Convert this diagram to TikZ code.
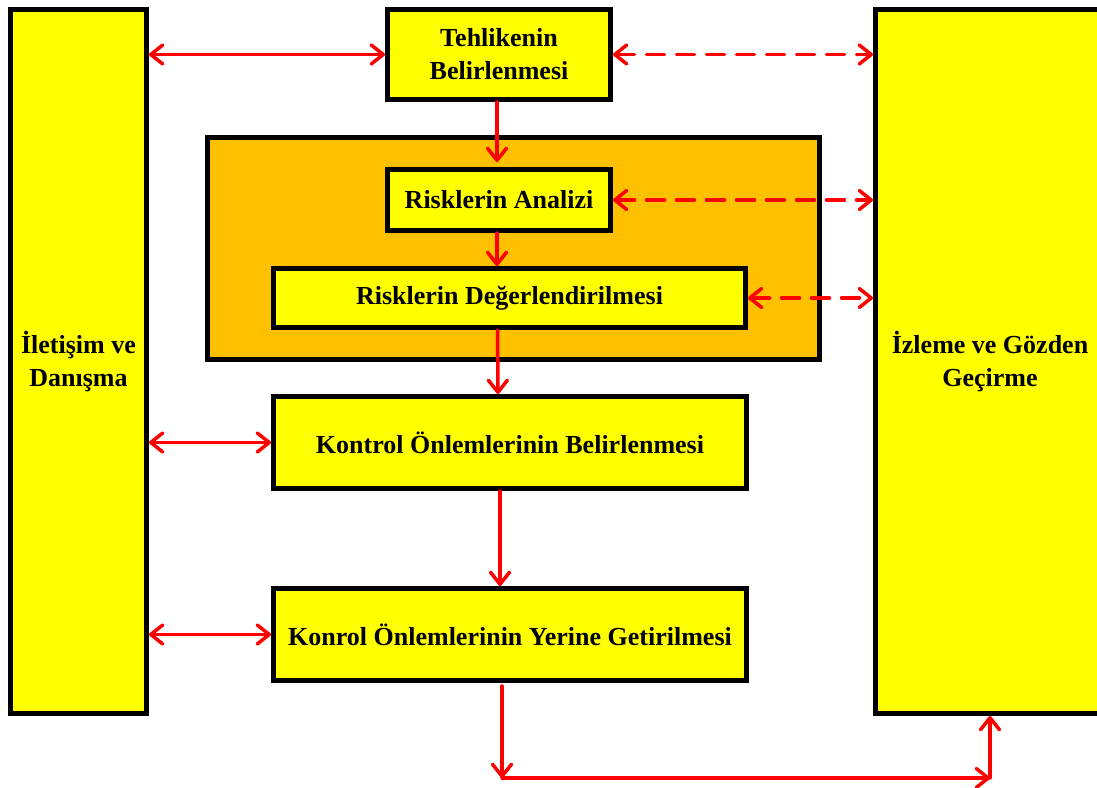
\documentclass[tikz,border=0pt]{standalone}
\usepackage{fontspec}
\setmainfont{Liberation Serif}
\usetikzlibrary{arrows.meta}
\definecolor{boxyellow}{HTML}{FFFF00}
\definecolor{boxorange}{HTML}{FFC000}
\definecolor{arrred}{HTML}{FF0000}
\begin{document}
\begin{tikzpicture}[x=1pt,y=-1pt,
  box/.style={draw=black, line width=5pt, fill=boxyellow, align=center,
    font=\fontsize{26}{33}\selectfont\bfseries, inner sep=0pt},
  group/.style={draw=black, line width=5pt, fill=boxorange, inner sep=0pt},
  arr/.style={draw=arrred, line width=3.5pt, line cap=round,
    >={Straight Barb[length=12pt,width=19pt,round]}},
  dsh/.style={dash pattern=on 18pt off 12pt}]
\useasboundingbox (0,0) rectangle (1097,787);
\fill[white] (0,0) rectangle (1097,787);

\node[box, minimum width=136pt, minimum height=704pt] (left) at (78.5,361.5) {İletişim ve\\Danışma};
\node[box, minimum width=229pt, minimum height=704pt] (right) at (990,361.5) {İzleme ve Gözden\\Geçirme};
\node[box, minimum width=223pt, minimum height=90pt] (teh) at (499,54.5) {Tehlikenin\\Belirlenmesi};
\node[group, minimum width=612pt, minimum height=222pt] (grp) at (513.5,248.5) {};
\node[box, minimum width=223pt, minimum height=61pt] (ana) at (499,200) {Risklerin Analizi};
\node[box, minimum width=472pt, minimum height=59pt] (deg) at (509.5,298) {Risklerin Değerlendirilmesi};
\node[box, minimum width=473pt, minimum height=92pt] (kon) at (510,442.5) {Kontrol Önlemlerinin Belirlenmesi};
\node[box, minimum width=473pt, minimum height=92pt] (yer) at (510,634.5) {Konrol Önlemlerinin Yerine Getirilmesi};

\coordinate (b1) at (502,778);
\coordinate (b2) at (990,778);

\draw[arr,<->] (left.east |- teh.west) -- (teh.west);
\draw[arr,dsh,<->] (teh.east) -- (right.west |- teh.east);
\draw[arr,->,shorten >=5pt] ([xshift=-2pt]teh.south) -- ([xshift=-2pt]ana.north);
\draw[arr,dsh,<->] (ana.east) -- (right.west |- ana.east);
\draw[arr,->] ([xshift=-2pt]ana.south) -- ([xshift=-2pt]ana.south |- deg.north);
\draw[arr,dsh,<->] (deg.east) -- (right.west |- deg.east);
\draw[arr,->] ([xshift=-12pt]deg.south) -- ([xshift=-12pt]kon.north);
\draw[arr,<->] (left.east |- kon.west) -- (kon.west);
\draw[arr,->] ([xshift=-10pt]kon.south) -- ([xshift=-10pt]yer.north);
\draw[arr,<->] (left.east |- yer.west) -- (yer.west);
\draw[arr,->,shorten <=3pt] (b1 |- yer.south) -- (b1);
\draw[arr,->] (b1) -- (b2);
\draw[arr,->] (b2) -- (right.south);
\end{tikzpicture}
\end{document}
